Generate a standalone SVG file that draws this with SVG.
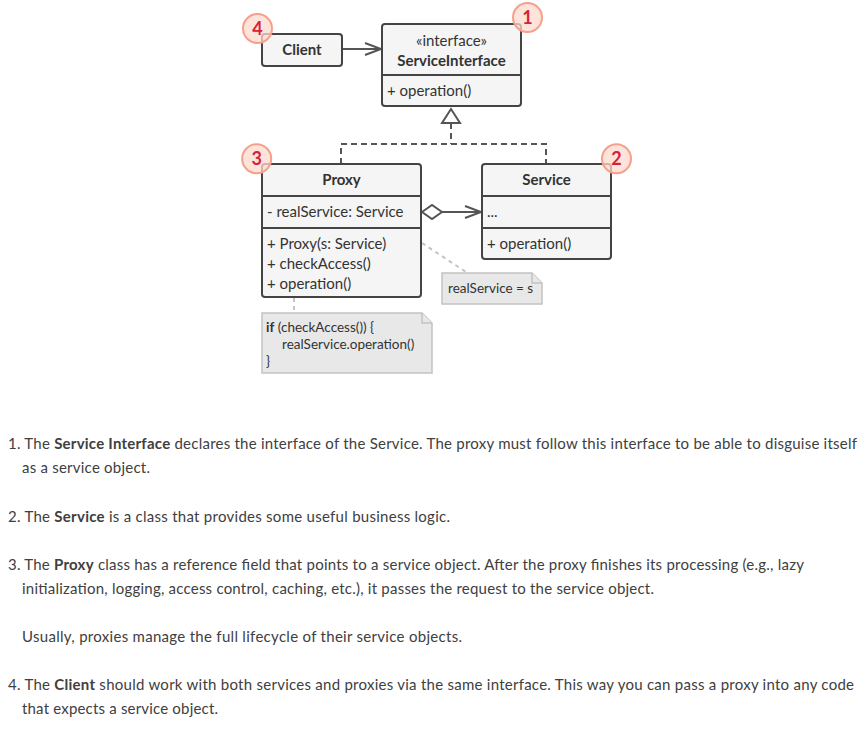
<svg xmlns="http://www.w3.org/2000/svg" width="868" height="732" viewBox="0 0 868 732">
<style>
  .box { fill: #f5f5f5; stroke: #444; stroke-width: 2; }
  .div { stroke: #444; stroke-width: 2; fill: none; }
  .t { font-family: Lato, "Open Sans", "Liberation Sans", sans-serif; font-size: 15px; fill: #333; }
  .b { font-weight: bold; }
  .c { text-anchor: middle; }
  .note { fill: #e8e8e8; stroke: #c2c2c2; stroke-width: 1.5; }
  .nt { font-family: Lato, "Open Sans", "Liberation Sans", sans-serif; font-size: 13.5px; fill: #333; }
  .dash { stroke: #555; stroke-width: 2; fill: none; stroke-dasharray: 6 4; }
  .dot { stroke: #c4c4c4; stroke-width: 2; fill: none; stroke-dasharray: 4 4; }
  .line { stroke: #555; stroke-width: 2; fill: none; }
  .badge { fill: #fdd9cf; fill-opacity: 0.75; stroke: #f6a08b; stroke-width: 2; }
  .bn { font-family: Lato, "Open Sans", "Liberation Sans", sans-serif; font-size: 18px; font-weight: bold; fill: #d2233b; text-anchor: middle; }
  .body { font-family: Lato, "Open Sans", "Liberation Sans", sans-serif; font-size: 15px; fill: #404040; }
</style>
<rect width="868" height="732" fill="#ffffff"/>

<g id="connectors">
  <!-- Client -> ServiceInterface -->
  <line class="line" x1="342" y1="49" x2="380" y2="49"/>
  <polyline class="line" points="365,43 381,49 365,55"/>
  <!-- realization -->
  <line class="dash" x1="451" y1="123" x2="451" y2="144"/>
  <polyline class="dash" points="341,164 341,144 546,144 546,164"/>
  <polygon points="451,109 442,123 460,123" fill="#ffffff" stroke="#555" stroke-width="2" stroke-linejoin="miter"/>
  <!-- aggregation Proxy -> Service -->
  <line class="line" x1="442" y1="212" x2="480" y2="212"/>
  <polyline class="line" points="465,206 481,212 465,218"/>
  <polygon points="422,212 432,205 442,212 432,219" fill="#ffffff" stroke="#555" stroke-width="2"/>
  <!-- note connectors -->
  <line class="dot" x1="422" y1="243" x2="466" y2="272"/>
  <line class="dot" x1="294" y1="298" x2="294" y2="313"/>
</g>

<g id="client">
  <rect class="box" x="262" y="34" width="80" height="32" rx="3"/>
  <text class="t b c" x="302" y="55">Client</text>
</g>

<g id="serviceinterface">
  <rect class="box" x="382" y="24" width="139" height="82" rx="3"/>
  <line class="div" x1="382" y1="75" x2="521" y2="75"/>
  <text class="t c" x="451.5" y="46">«interface»</text>
  <text class="t b c" x="451.5" y="66">ServiceInterface</text>
  <text class="t" x="387" y="96">+ operation()</text>
</g>

<g id="proxy">
  <rect class="box" x="262" y="164" width="159" height="133" rx="3"/>
  <line class="div" x1="262" y1="196" x2="421" y2="196"/>
  <line class="div" x1="262" y1="228" x2="421" y2="228"/>
  <text class="t b c" x="341.5" y="185">Proxy</text>
  <text class="t" x="267" y="217">- realService: Service</text>
  <text class="t" x="267" y="249">+ Proxy(s: Service)</text>
  <text class="t" x="267" y="269">+ checkAccess()</text>
  <text class="t" x="267" y="289">+ operation()</text>
</g>

<g id="service">
  <rect class="box" x="482" y="164" width="129" height="95" rx="3"/>
  <line class="div" x1="482" y1="196" x2="611" y2="196"/>
  <line class="div" x1="482" y1="228" x2="611" y2="228"/>
  <text class="t b c" x="546.5" y="185">Service</text>
  <text class="t" x="487" y="217">...</text>
  <text class="t" x="487" y="249">+ operation()</text>
</g>

<g id="note-realservice">
  <path class="note" d="M442,273 H532 L542,283 V304 H442 Z"/>
  <path class="note" d="M532,273 V283 H542" fill="none"/>
  <text class="nt" x="448" y="293">realService = s</text>
</g>

<g id="note-operation">
  <path class="note" d="M262,313 H422 L432,323 V373 H262 Z"/>
  <path class="note" d="M422,313 V323 H432" fill="none"/>
  <text class="nt" x="266" y="332"><tspan font-weight="bold">if</tspan> (checkAccess()) {</text>
  <text class="nt" x="282" y="349">realService.operation()</text>
  <text class="nt" x="266" y="366">}</text>
</g>

<g id="badge-1">
  <circle class="badge" cx="527.5" cy="17.5" r="14.5"/>
  <text class="bn" x="527.5" y="24">1</text>
</g>
<g id="badge-2">
  <circle class="badge" cx="616.5" cy="158.7" r="14.5"/>
  <text class="bn" x="616.5" y="165.2">2</text>
</g>
<g id="badge-3">
  <circle class="badge" cx="256.7" cy="158.7" r="14.5"/>
  <text class="bn" x="256.7" y="165.2">3</text>
</g>
<g id="badge-4">
  <circle class="badge" cx="257.5" cy="28.5" r="14.5"/>
  <text class="bn" x="257.5" y="35">4</text>
</g>

<g id="description">
  <text class="body" x="8" y="448.5" textLength="849" lengthAdjust="spacing">1. The <tspan font-weight="bold">Service Interface</tspan> declares the interface of the Service. The proxy must follow this interface to be able to disguise itself</text>
  <text class="body" x="22" y="472.5" textLength="128" lengthAdjust="spacing">as a service object.</text>
  <text class="body" x="8" y="521.5" textLength="442" lengthAdjust="spacing">2. The <tspan font-weight="bold">Service</tspan> is a class that provides some useful business logic.</text>
  <text class="body" x="8" y="569.5" textLength="796" lengthAdjust="spacing">3. The <tspan font-weight="bold">Proxy</tspan> class has a reference field that points to a service object. After the proxy finishes its processing (e.g., lazy</text>
  <text class="body" x="22" y="593.5" textLength="632" lengthAdjust="spacing">initialization, logging, access control, caching, etc.), it passes the request to the service object.</text>
  <text class="body" x="22" y="641.5" textLength="440" lengthAdjust="spacing">Usually, proxies manage the full lifecycle of their service objects.</text>
  <text class="body" x="8" y="690" textLength="846" lengthAdjust="spacing">4. The <tspan font-weight="bold">Client</tspan> should work with both services and proxies via the same interface. This way you can pass a proxy into any code</text>
  <text class="body" x="22" y="714" textLength="196" lengthAdjust="spacing">that expects a service object.</text>
</g>
</svg>
